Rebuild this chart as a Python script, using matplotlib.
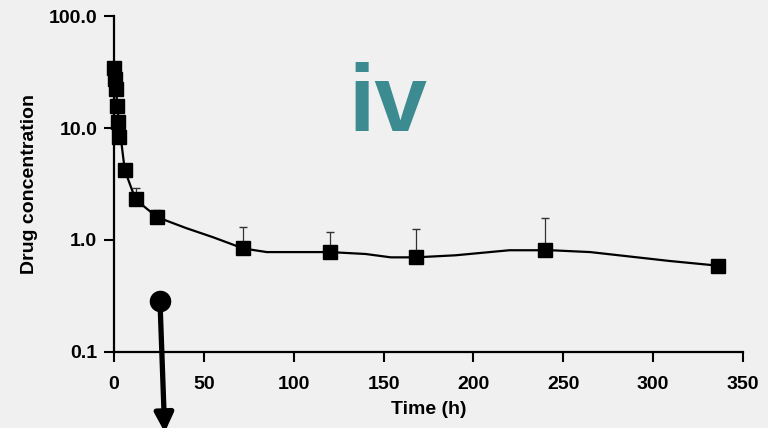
import matplotlib.pyplot as plt
import numpy as np
from matplotlib.lines import Line2D


# observed mean concentrations (markers)
TIME_H = [0.25, 0.5, 1, 1.5, 2, 3, 6, 12, 24, 72, 120, 168, 240, 336]
CONC = [34.4, 27.4, 22.3, 15.7, 11.3, 8.3, 4.2, 2.3, 1.6, 0.84, 0.78, 0.70, 0.81, 0.59]
# upper SD whiskers (absolute top of the bar)
CONC_UPPER = [34.4, 27.4, 22.3, 15.7, 11.3, 8.3, 4.4, 2.9, 1.85, 1.31, 1.18, 1.25, 1.57, 0.59]

# smooth fitted curve drawn through the data
FIT_TIME_H = [0.25, 1, 2, 3, 6, 12, 24, 40, 55, 72, 85, 120, 140, 154, 168, 190, 220, 243, 265, 309, 336]
FIT_CONC = [34.4, 24.0, 15.0, 10.5, 4.2, 2.3, 1.6, 1.28, 1.06, 0.84, 0.78, 0.78, 0.75, 0.70, 0.70,
            0.73, 0.81, 0.81, 0.78, 0.65, 0.59]

X_TICKS = [0, 50, 100, 150, 200, 250, 300, 350]
Y_TICKS = [0.1, 1.0, 10.0, 100.0]
Y_TICK_LABELS = ["0.1", "1.0", "10.0", "100.0"]

BG = "#f0f0f0"
TEAL = "#3b8b90"
FONT = ["Liberation Sans", "DejaVu Sans"]


def main():
    plt.rcParams["font.family"] = FONT
    fig = plt.figure(figsize=(7.68, 4.28), dpi=100, facecolor=BG)
    ax = fig.add_axes([0.1484, 0.1776, 0.819, 0.785])
    ax.set_facecolor(BG)

    conc = np.asarray(CONC)
    upper = np.asarray(CONC_UPPER) - conc
    ax.plot(FIT_TIME_H, FIT_CONC, color="black", linewidth=1.6, zorder=2)
    ax.errorbar(TIME_H, conc, yerr=[np.zeros_like(conc), upper], fmt="none",
                ecolor="#333333", elinewidth=0.9, capsize=3, capthick=1.0, zorder=1)
    ax.plot(TIME_H, conc, linestyle="none", marker="s", markersize=9.5,
            color="black", zorder=3, clip_on=False)

    ax.set_yscale("log")
    ax.set_xlim(0, 350)
    ax.set_ylim(0.1, 100)
    ax.set_xticks(X_TICKS)
    ax.set_yticks(Y_TICKS)
    ax.set_yticklabels(Y_TICK_LABELS)
    ax.yaxis.set_minor_locator(plt.NullLocator())
    for spine in ["top", "right"]:
        ax.spines[spine].set_visible(False)
    for spine in ["left", "bottom"]:
        ax.spines[spine].set_linewidth(1.6)
    ax.tick_params(axis="both", direction="out", length=7, width=1.5, labelsize=14)
    ax.tick_params(axis="x", pad=10)
    ax.tick_params(axis="y", pad=5)
    for lab in ax.get_xticklabels() + ax.get_yticklabels():
        lab.set_fontweight("bold")

    ax.set_xlabel("Time (h)", fontsize=14, fontweight="bold", labelpad=6)
    ax.set_ylabel("Drug concentration", fontsize=14, fontweight="bold", labelpad=8)

    fig.text(0.505, 0.694, "iv", color=TEAL, fontsize=68, fontweight="bold",
             ha="center", va="baseline")

    # pointer arrow below the curve
    ax.annotate("", xy=(0.2145, -0.01), xytext=(0.2083, 0.297),
                xycoords="figure fraction", textcoords="figure fraction",
                arrowprops=dict(arrowstyle="-|>", lw=3.8, color="black",
                                mutation_scale=28, shrinkA=0, shrinkB=0),
                annotation_clip=False)
    fig.add_artist(Line2D([0.2083], [0.297], transform=fig.transFigure,
                          marker="o", markersize=14.5, color="black"))

    fig.savefig("out.png", dpi=100, facecolor=BG)
    plt.close(fig)


if __name__ == "__main__":
    main()
